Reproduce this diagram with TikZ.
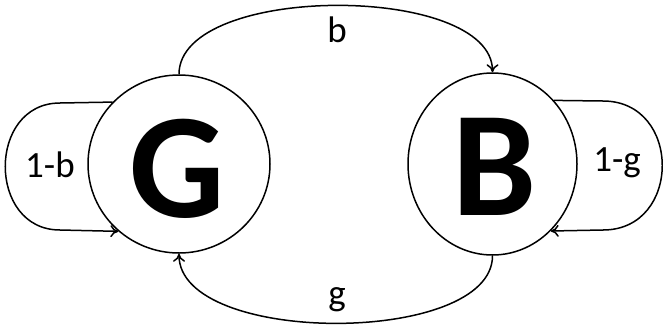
\documentclass[tikz,border=0pt]{standalone}
\usepackage{fontspec}
\setmainfont{Carlito}
\usetikzlibrary{arrows.meta,shapes.geometric}
\begin{document}
\begin{tikzpicture}[x=1pt,y=-1pt,
  state/.style={ellipse,draw,line width=1.5pt,inner sep=0pt},
  big/.style={font=\fontsize{150}{150}\selectfont\bfseries,inner sep=0pt},
  edge/.style={line width=1.5pt,-{To[length=8pt,width=12pt]}},
  lab/.style={font=\fontsize{37}{37}\selectfont,inner sep=0pt}]
\useasboundingbox (0,0) rectangle (663,335);
\node[state,minimum width=182pt,minimum height=178pt] (G) at (179,164) {};
\node[state,minimum width=169pt,minimum height=182pt] (B) at (492.5,164) {};
\node[big] (Gt) at (177,168.5) {G};
\node[big] (Bt) at (495,167) {B};
% top arc
\draw[edge] (G.90) .. controls (179,-17) and (492.5,-17) .. (B.90);
\node[lab] (lb) at (337,30) {b};
% bottom arc
\draw[edge] (B.270) .. controls (492.5,346) and (179,346) .. (G.270);
\node[lab] (lg) at (337,300) {g};
% left loop
\coordinate (l1) at (60,103);
\coordinate (l2) at (60,230);
\draw[edge] (G.137) -- (l1) .. controls (-13,103) and (-13,230) .. (l2) -- (G.228);
\node[lab] (l1b) at (50,165) {1-b};
% right loop
\coordinate (r1) at (603,101);
\coordinate (r2) at (603,230);
\draw[edge] (B.46) -- (r1) .. controls (682,101) and (682,230) .. (r2) -- (B.311);
\node[lab] (l1g) at (617,163) {1-g};
\end{tikzpicture}
\end{document}
